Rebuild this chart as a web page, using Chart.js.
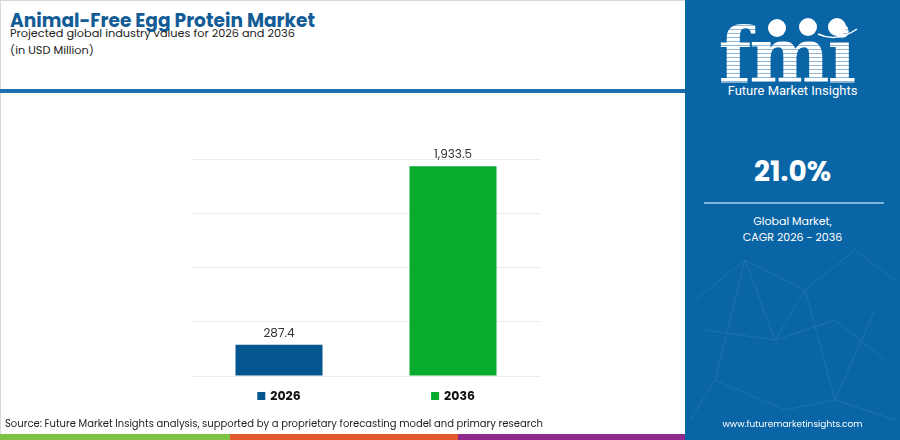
<!DOCTYPE html>
<html>
<head>
<meta charset="utf-8">
<script src="https://cdn.jsdelivr.net/npm/chart.js@4"></script>
<style>
  body { margin: 0; width: 900px; height: 440px; overflow: hidden; background: #fff; font-family: "Poppins", "Inter", "Roboto", sans-serif; }
  #frame { position: absolute; left: 0; top: 0; width: 685px; height: 440px; border-left: 1px solid #d8d8d8; border-top: 1px solid #d8d8d8; box-sizing: border-box; }
  #title { position: absolute; left: 10px; top: 8px; font-size: 18.6px; line-height: 26px; font-weight: 700; color: #135c96; }
  #sub1 { position: absolute; left: 10px; top: 25px; font-size: 11.3px; line-height: 16px; color: #222; }
  #sub2 { position: absolute; left: 10px; top: 42px; font-size: 11.3px; line-height: 16px; color: #222; }
  #rule { position: absolute; left: 0; top: 89px; width: 685px; height: 4px; background: #1c6fae; }
  #chartBox { position: absolute; left: 0; top: 95px; width: 685px; height: 335px; }
  #source { position: absolute; left: 5px; top: 417px; font-size: 10px; line-height: 14px; color: #222; }
  .strip { position: absolute; top: 434px; height: 6px; }
  #panel { position: absolute; left: 685px; top: 0; width: 215px; height: 440px; background: #0a65a6; color: #fff; text-align: center; overflow: hidden; }
  #logo { position: absolute; left: -6px; top: 18px; width: 215px; font-family: "DejaVu Serif", serif; font-weight: 900; font-size: 76px; line-height: 76px;
          background: repeating-linear-gradient(#fff 0 3px, #8fb8d8 3px 4px); -webkit-background-clip: text; background-clip: text; color: transparent; letter-spacing: -2px; }
  #brand { position: absolute; left: 0; top: 83px; width: 215px; font-size: 13px; font-family: "Roboto", sans-serif; font-weight: 400; }
  #cagr { position: absolute; left: 0; top: 151px; width: 215px; font-size: 28px; font-weight: 700; }
  #divider { position: absolute; left: 19px; top: 202px; width: 180px; height: 2px; background: #7fb6e0; }
  #gm { position: absolute; left: 0; top: 213px; width: 215px; font-size: 11px; line-height: 16px; }
  #url { position: absolute; left: 0; top: 418px; width: 215px; font-size: 9px; }
  .globe { position: absolute; width: 18px; height: 18px; border-radius: 50%; background: #fff; }
</style>
</head>
<body>
<div id="frame"></div>
<div id="title">Animal-Free Egg Protein Market</div>
<div id="sub1">Projected global industry values for 2026 and 2036</div>
<div id="sub2">(in USD Million)</div>
<div id="rule"></div>
<div id="chartBox"><canvas id="chart"></canvas></div>
<div id="source">Source: Future Market Insights analysis, supported by a proprietary forecasting model and primary research</div>
<div class="strip" style="left:0;width:230px;background:#7dc242"></div>
<div class="strip" style="left:230px;width:228px;background:#e2582a"></div>
<div class="strip" style="left:458px;width:227px;background:#8e2a8b"></div>

<div id="panel">
  <svg width="215" height="440" style="position:absolute;left:0;top:0;opacity:0.12">
    <g stroke="#cfe6ff" stroke-width="0.8" fill="none">
      <path d="M10 300 L60 260 L120 290 L170 250 L210 280"/>
      <path d="M30 380 L60 260 L90 340 L150 320 L200 360"/>
      <path d="M20 330 L90 340 L120 290 L150 400 L190 310"/>
      <path d="M5 420 L30 380 L100 410 L150 400 L210 420"/>
    </g>
  </svg>
  <div id="logo">fmi</div>
  <div class="globe" style="left:83px;top:19px"></div>
  <div class="globe" style="left:114px;top:18px"></div>
  <div class="globe" style="left:143px;top:18px"></div>
  <svg width="215" height="60" style="position:absolute;left:0;top:0">
    <path d="M133 34 Q152 43 172 29" stroke="#fff" stroke-width="1.5" fill="none"/>
  </svg>
  <div id="brand">Future Market Insights</div>
  <div id="cagr">21.0%</div>
  <div id="divider"></div>
  <div id="gm">Global Market,<br>CAGR 2026 - 2036</div>
  <div id="url">www.futuremarketinsights.com</div>
</div>

<script>
// chart data
const years = ["2026", "2036"];
const marketValues = [287.4, 1933.5];
const barColors = ["#04568f", "#08ab2d"];
const yTicks = { min: 0, max: 2000, step: 500 };

// value labels above the bars and the small legend under them
const barExtras = {
  id: "barExtras",
  afterDatasetsDraw(chart) {
    const ctx = chart.ctx;
    const meta = chart.getDatasetMeta(0);
    ctx.save();
    meta.data.forEach((bar, i) => {
      ctx.fillStyle = "#333";
      ctx.font = "12px Poppins, Inter, Roboto, sans-serif";
      ctx.textAlign = "center";
      ctx.textBaseline = "bottom";
      ctx.fillText(marketValues[i].toLocaleString("en-US", { minimumFractionDigits: 1 }), bar.x, bar.y - 5);

      // legend item: square + bold year, centered under the bar
      ctx.font = "bold 12.5px Poppins, Inter, Roboto, sans-serif";
      const w = ctx.measureText(years[i]).width;
      const total = 8 + 5 + w;
      const left = bar.x - total / 2;
      const y = chart.chartArea.bottom + 20;
      ctx.fillStyle = barColors[i];
      ctx.fillRect(left, y - 4, 8, 8);
      ctx.fillStyle = "#111";
      ctx.textAlign = "left";
      ctx.textBaseline = "middle";
      ctx.fillText(years[i], left + 13, y + 1);
    });
    ctx.restore();
  }
};

new Chart(document.getElementById("chart"), {
  type: "bar",
  data: {
    labels: years,
    datasets: [{
      data: marketValues,
      backgroundColor: barColors,
      barPercentage: 0.5,
      categoryPercentage: 1.0
    }]
  },
  options: {
    responsive: true,
    maintainAspectRatio: false,
    animation: false,
    layout: { padding: { left: 192, right: 145, top: 64, bottom: 54 } },
    plugins: { legend: { display: false }, tooltip: { enabled: false } },
    scales: {
      x: { display: false },
      y: {
        min: yTicks.min,
        max: yTicks.max,
        ticks: { display: false, stepSize: yTicks.step },
        grid: { color: "#ececec", drawTicks: false },
        border: { display: false }
      }
    }
  },
  plugins: [barExtras]
});
</script>
</body>
</html>
